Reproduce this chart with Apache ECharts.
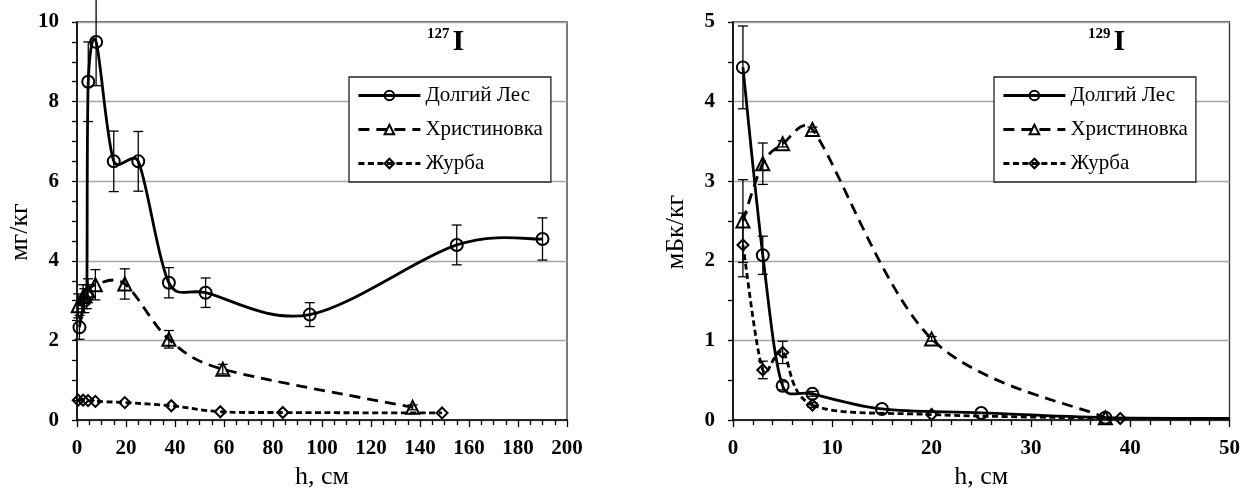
<!DOCTYPE html>
<html><head><meta charset="utf-8">
<script src="https://cdn.jsdelivr.net/npm/echarts@6/dist/echarts.min.js"></script>
<style>html,body{margin:0;padding:0;background:#fff}#c{width:1243px;height:495px}</style>
</head><body><div id="c"></div>
<script>
// ---- 127I (left) ----
const dl127_h = [1, 3, 4, 4.6, 7.8, 15, 25, 37.5, 52.5, 95, 155, 190];
const dl127_v = [2.33, 3.0, 3.1, 8.5, 9.5, 6.5, 6.5, 3.45, 3.2, 2.65, 4.4, 4.55];
const dl127_e = [0.3, 0.3, 0.3, 1.0, 1.1, 0.76, 0.75, 0.38, 0.37, 0.3, 0.5, 0.53];
const xr127_h = [0.5, 2.5, 4.5, 7.5, 19.5, 37.5, 59.5, 137];
const xr127_v = [2.87, 3.1, 3.25, 3.4, 3.42, 2.03, 1.28, 0.32];
const xr127_e = [0.3, 0.3, 0.3, 0.38, 0.38, 0.22, 0.12, 0.06];
const zh127_h = [0.5, 2.5, 4.5, 7.5, 19.5, 38.5, 58.5, 84, 149];
const zh127_v = [0.5, 0.5, 0.49, 0.47, 0.44, 0.36, 0.21, 0.19, 0.18];
// ---- 129I (right) ----
const dl129_h = [1, 3, 5, 8, 15, 25, 37.5, 50];
const dl129_v = [4.43, 2.07, 0.43, 0.33, 0.14, 0.09, 0.03, 0.02];
const dl129_e = [0.52, 0.24, 0.05, 0.03, 0, 0, 0, 0];
const xr129_h = [1, 3, 5, 8, 20, 37.5];
const xr129_v = [2.5, 3.22, 3.47, 3.65, 1.02, 0.03];
const xr129_e = [0.52, 0.26, 0.04, 0.03, 0.03, 0];
const zh129_h = [1, 3, 5, 8, 20, 39];
const zh129_v = [2.2, 0.63, 0.85, 0.19, 0.07, 0.02];
const zh129_e = [0.4, 0.11, 0.14, 0.03, 0, 0];

const names = ['Долгий Лес', 'Христиновка', 'Журба'];
const xTicks127 = {min: 0, max: 200, interval: 20, minor: 4};
const xTicks129 = {min: 0, max: 50, interval: 10, minor: 5};
const yTicks127 = {min: 0, max: 10, interval: 2, minor: 4};
const yTicks129 = {min: 0, max: 5, interval: 1, minor: 2};

const FONT = 'Liberation Serif';
const pairs = (h, v) => h.map((x, i) => [x, v[i]]);
const errs = (h, v, e) => h.map((x, i) => [x, v[i] - e[i], v[i] + e[i], e[i]]).filter(r => r[3] > 0);

function errRender(params, api) {
  const x = api.value(0), lo = api.value(1), hi = api.value(2);
  const a = api.coord([x, lo]), b = api.coord([x, hi]);
  const w = 5, st = {stroke: '#000', lineWidth: 1.3};
  return {type: 'group', children: [
    {type: 'line', shape: {x1: a[0], y1: a[1], x2: b[0], y2: b[1]}, style: st},
    {type: 'line', shape: {x1: a[0] - w, y1: a[1], x2: a[0] + w, y2: a[1]}, style: st},
    {type: 'line', shape: {x1: b[0] - w, y1: b[1], x2: b[0] + w, y2: b[1]}, style: st}
  ]};
}

const styles = [
  {symbol: 'circle', size: 12, width: 2.8, dash: null},
  {symbol: 'triangle', size: 13, width: 2.8, dash: [11, 7]},
  {symbol: 'diamond', size: 11, width: 2.8, dash: [6, 3.5]}
];

// Excel-like smoothed curve (Bezier, 1/6 tangents, capped), drawn through the axis scales
function curveSeries(k, data, gi) {
  const s = styles[k];
  return {
    type: 'custom', xAxisIndex: gi, yAxisIndex: gi, data: data, encode: {x: 0, y: 1},
    z: 2, silent: true, clip: true,
    renderItem: function (params, api) {
      if (params.dataIndex !== 0) return null;
      const P = data.map(d => api.coord(d));
      const children = [];
      let offset = 0;
      for (let i = 0; i < P.length - 1; i++) {
        const p0 = P[i - 1] || P[i], p1 = P[i], p2 = P[i + 1], p3 = P[i + 2] || P[i + 1];
        const seg = Math.hypot(p2[0] - p1[0], p2[1] - p1[1]);
        const cap = t => {
          const L = Math.hypot(t[0], t[1]);
          return L > seg / 2 && L > 0 ? [t[0] * seg / 2 / L, t[1] * seg / 2 / L] : t;
        };
        const t1 = cap([(p2[0] - p0[0]) / 6, (p2[1] - p0[1]) / 6]);
        const t2 = cap([(p3[0] - p1[0]) / 6, (p3[1] - p1[1]) / 6]);
        const c1 = [p1[0] + t1[0], p1[1] + t1[1]], c2 = [p2[0] - t2[0], p2[1] - t2[1]];
        const style = {stroke: '#000', lineWidth: s.width, fill: null};
        if (s.dash) { style.lineDash = s.dash; style.lineDashOffset = offset; }
        children.push({type: 'bezierCurve',
          shape: {x1: p1[0], y1: p1[1], x2: p2[0], y2: p2[1], cpx1: c1[0], cpy1: c1[1], cpx2: c2[0], cpy2: c2[1]},
          style: style});
        const poly = Math.hypot(c1[0] - p1[0], c1[1] - p1[1]) + Math.hypot(c2[0] - c1[0], c2[1] - c1[1]) + Math.hypot(p2[0] - c2[0], p2[1] - c2[1]);
        offset += (poly + seg) / 2;
      }
      return {type: 'group', children: children};
    }
  };
}

function markerSeries(k, data, gi, hideLast) {
  const s = styles[k];
  return {
    type: 'line', name: names[k], xAxisIndex: gi, yAxisIndex: gi, data: data, z: 4,
    symbol: hideLast ? (v, p) => (p.dataIndex === data.length - 1 ? 'none' : s.symbol) : s.symbol,
    symbolSize: s.size, showAllSymbol: true,
    lineStyle: {color: '#000', width: 0, opacity: 0},
    itemStyle: {color: 'rgba(0,0,0,0)', borderColor: '#000', borderWidth: 2},
    emphasis: {disabled: true}
  };
}
function errSeries(data, gi) {
  return {type: 'custom', xAxisIndex: gi, yAxisIndex: gi, data: data, renderItem: errRender,
    encode: {x: 0, y: [1, 2]}, clip: false, z: 3, silent: true};
}

function xAxis(t, gi) {
  return {type: 'value', gridIndex: gi, min: t.min, max: t.max, interval: t.interval,
    name: 'h, см', nameLocation: 'middle', nameGap: 40,
    nameTextStyle: {fontFamily: FONT, fontSize: 26, color: '#000'},
    axisLine: {onZero: false, lineStyle: {color: '#000', width: 1.5}},
    axisTick: {length: 7, lineStyle: {color: '#000', width: 1.3}},
    minorTick: {show: true, splitNumber: t.minor, length: 5, lineStyle: {color: '#000', width: 1.3}},
    axisLabel: {fontFamily: FONT, fontWeight: 'bold', fontSize: 21, color: '#000', margin: 18},
    splitLine: {show: false}};
}
function yAxis(t, gi, name) {
  return {type: 'value', gridIndex: gi, min: t.min, max: t.max, interval: t.interval,
    name: name, nameLocation: 'middle', nameGap: 44,
    nameTextStyle: {fontFamily: FONT, fontSize: 26, color: '#000', padding: [0, 22, 0, 0]},
    axisLine: {show: true, onZero: false, lineStyle: {color: '#000', width: 1.5}},
    axisTick: {show: true, length: 5, lineStyle: {color: '#000', width: 1.3}},
    minorTick: {show: true, splitNumber: t.minor, length: 5, lineStyle: {color: '#000', width: 1.3}},
    axisLabel: {fontFamily: FONT, fontWeight: 'bold', fontSize: 21, color: '#000', margin: 18},
    splitLine: {show: true, lineStyle: {color: '#a6a6a6', width: 1.3}}};
}
function legend(left, top) {
  return {left: left, top: top, orient: 'vertical',
    data: names.map((n, k) => ({name: n,
      lineStyle: {color: '#000', width: styles[k].width, opacity: 1, type: styles[k].dash || 'solid'}})),
    itemWidth: 62, itemHeight: 12, itemGap: 13, padding: [8, 8, 8, 8],
    borderColor: '#222', borderWidth: 1.3, backgroundColor: '#fff',
    textStyle: {fontFamily: FONT, fontSize: 21, color: '#000'}, selectedMode: false};
}
function title(left, top, mass) {
  return {left: left, top: top, text: '{s|' + mass + '}{b|I}',
    textStyle: {rich: {
      s: {fontFamily: FONT, fontWeight: 'bold', fontSize: 15, color: '#000', verticalAlign: 'top', padding: [0, 0, 12, 0]},
      b: {fontFamily: FONT, fontWeight: 'bold', fontSize: 30, color: '#000', padding: [0, 0, 0, 3]}}}};
}

const chart = echarts.init(document.getElementById('c'));
chart.setOption({
  animation: false,
  backgroundColor: '#fff',
  title: [title(422, 22, '127'), title(1083, 22, '129')],
  legend: [legend(349, 77), legend(994, 77)],
  grid: [
    {left: 77, top: 22, width: 490, height: 399, show: true, borderColor: '#333', borderWidth: 1.3},
    {left: 733, top: 22, width: 499, height: 399, show: true, borderColor: '#333', borderWidth: 1.3}
  ],
  xAxis: [xAxis(xTicks127, 0), xAxis(xTicks129, 1)],
  yAxis: [yAxis(yTicks127, 0, 'мг/кг'), yAxis(yTicks129, 1, 'мБк/кг')],
  series: [
    curveSeries(0, pairs(dl127_h, dl127_v), 0),
    curveSeries(1, pairs(xr127_h, xr127_v), 0),
    curveSeries(2, pairs(zh127_h, zh127_v), 0),
    errSeries(errs(dl127_h, dl127_v, dl127_e), 0),
    errSeries(errs(xr127_h, xr127_v, xr127_e), 0),
    markerSeries(0, pairs(dl127_h, dl127_v), 0, false),
    markerSeries(1, pairs(xr127_h, xr127_v), 0, false),
    markerSeries(2, pairs(zh127_h, zh127_v), 0, false),
    curveSeries(0, pairs(dl129_h, dl129_v), 1),
    curveSeries(1, pairs(xr129_h, xr129_v), 1),
    curveSeries(2, pairs(zh129_h, zh129_v), 1),
    errSeries(errs(dl129_h, dl129_v, dl129_e), 1),
    errSeries(errs(xr129_h, xr129_v, xr129_e), 1),
    errSeries(errs(zh129_h, zh129_v, zh129_e), 1),
    markerSeries(0, pairs(dl129_h, dl129_v), 1, true),
    markerSeries(1, pairs(xr129_h, xr129_v), 1, false),
    markerSeries(2, pairs(zh129_h, zh129_v), 1, false)
  ]
});
</script>
</body></html>
